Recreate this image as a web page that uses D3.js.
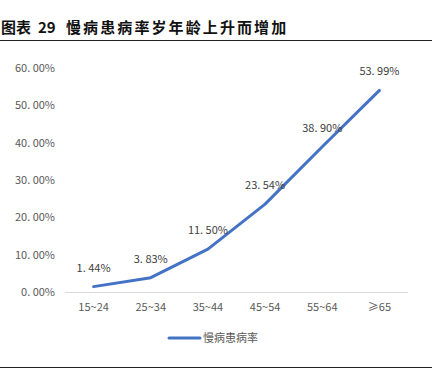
<!DOCTYPE html>
<html lang="zh">
<head>
<meta charset="UTF-8">
<title>慢病患病率</title>
<script src="https://d3js.org/d3.v7.min.js"></script>
<style>
  body { margin: 0; background: #fff; }
  text { font-family: "Noto Sans CJK SC", "DejaVu Sans", sans-serif; }
</style>
</head>
<body>
<div id="chart"></div>
<script>
var categories = ["15~24", "25~34", "35~44", "45~54", "55~64", "≥65"];
var rates = [1.44, 3.83, 11.50, 23.54, 38.90, 53.99];
var yTicks = [0, 10, 20, 30, 40, 50, 60];
var seriesName = "慢病患病率";
var titleParts = ["图表", "29", "慢病患病率岁年龄上升而增加"];

var width = 438, height = 375;
var svg = d3.select("#chart").append("svg")
    .attr("width", width)
    .attr("height", height);

// title (three pieces, spaced like the original) and rules
var t = svg.append("text")
    .attr("y", 33)
    .attr("font-size", "15px")
    .attr("font-weight", "bold")
    .attr("fill", "#111");
t.append("tspan").attr("x", 1).text(titleParts[0]);
t.append("tspan").attr("x", 38).text(titleParts[1]);
t.append("tspan").attr("x", 66).attr("letter-spacing", "2.1px").text(titleParts[2]);

svg.append("line")
    .attr("x1", 0).attr("x2", 432).attr("y1", 40.5).attr("y2", 40.5)
    .attr("stroke", "#222").attr("stroke-width", 1.2);
svg.append("line")
    .attr("x1", 0).attr("x2", 432).attr("y1", 367.5).attr("y2", 367.5)
    .attr("stroke", "#222").attr("stroke-width", 1.2);

var x = d3.scaleBand().domain(categories).range([65, 408]);
var y = d3.scaleLinear().domain([0, 60]).range([292, 68]);

// y axis labels
svg.selectAll(".ylab")
    .data(yTicks)
    .enter().append("text")
    .attr("x", 55)
    .attr("y", function(d) { return y(d) + 4; })
    .attr("text-anchor", "end")
    .attr("font-size", "11px")
    .attr("fill", "#595959")
    .text(function(d) { return d.toFixed(2).replace(".", ". ") + "%"; });

// baseline
svg.append("line")
    .attr("x1", 65).attr("x2", 408)
    .attr("y1", y(0) + 0.5).attr("y2", y(0) + 0.5)
    .attr("stroke", "#d9d9d9");

// x labels
svg.selectAll(".xlab")
    .data(categories)
    .enter().append("text")
    .attr("x", function(d) { return x(d) + x.bandwidth() / 2; })
    .attr("y", 311)
    .attr("text-anchor", "middle")
    .attr("font-size", "11px")
    .attr("fill", "#595959")
    .text(function(d) { return d; });

// line
var line = d3.line()
    .x(function(d, i) { return x(categories[i]) + x.bandwidth() / 2; })
    .y(function(d) { return y(d); });
svg.append("path")
    .datum(rates)
    .attr("d", line)
    .attr("fill", "none")
    .attr("stroke", "#4472C4")
    .attr("stroke-width", 3)
    .attr("stroke-linecap", "round")
    .attr("stroke-linejoin", "round");

// value labels
svg.selectAll(".vlab")
    .data(rates)
    .enter().append("text")
    .attr("x", function(d, i) { return x(categories[i]) + x.bandwidth() / 2; })
    .attr("y", function(d) { return y(d) - 15; })
    .attr("text-anchor", "middle")
    .attr("font-size", "11px")
    .attr("fill", "#404040")
    .text(function(d) { return d.toFixed(2).replace(".", ". ") + "%"; });

// legend
svg.append("line")
    .attr("x1", 169).attr("x2", 200).attr("y1", 338).attr("y2", 338)
    .attr("stroke", "#4472C4").attr("stroke-width", 3)
    .attr("stroke-linecap", "round");
svg.append("text")
    .attr("x", 203).attr("y", 342)
    .attr("font-size", "11px")
    .attr("fill", "#595959")
    .text(seriesName);
</script>
</body>
</html>
